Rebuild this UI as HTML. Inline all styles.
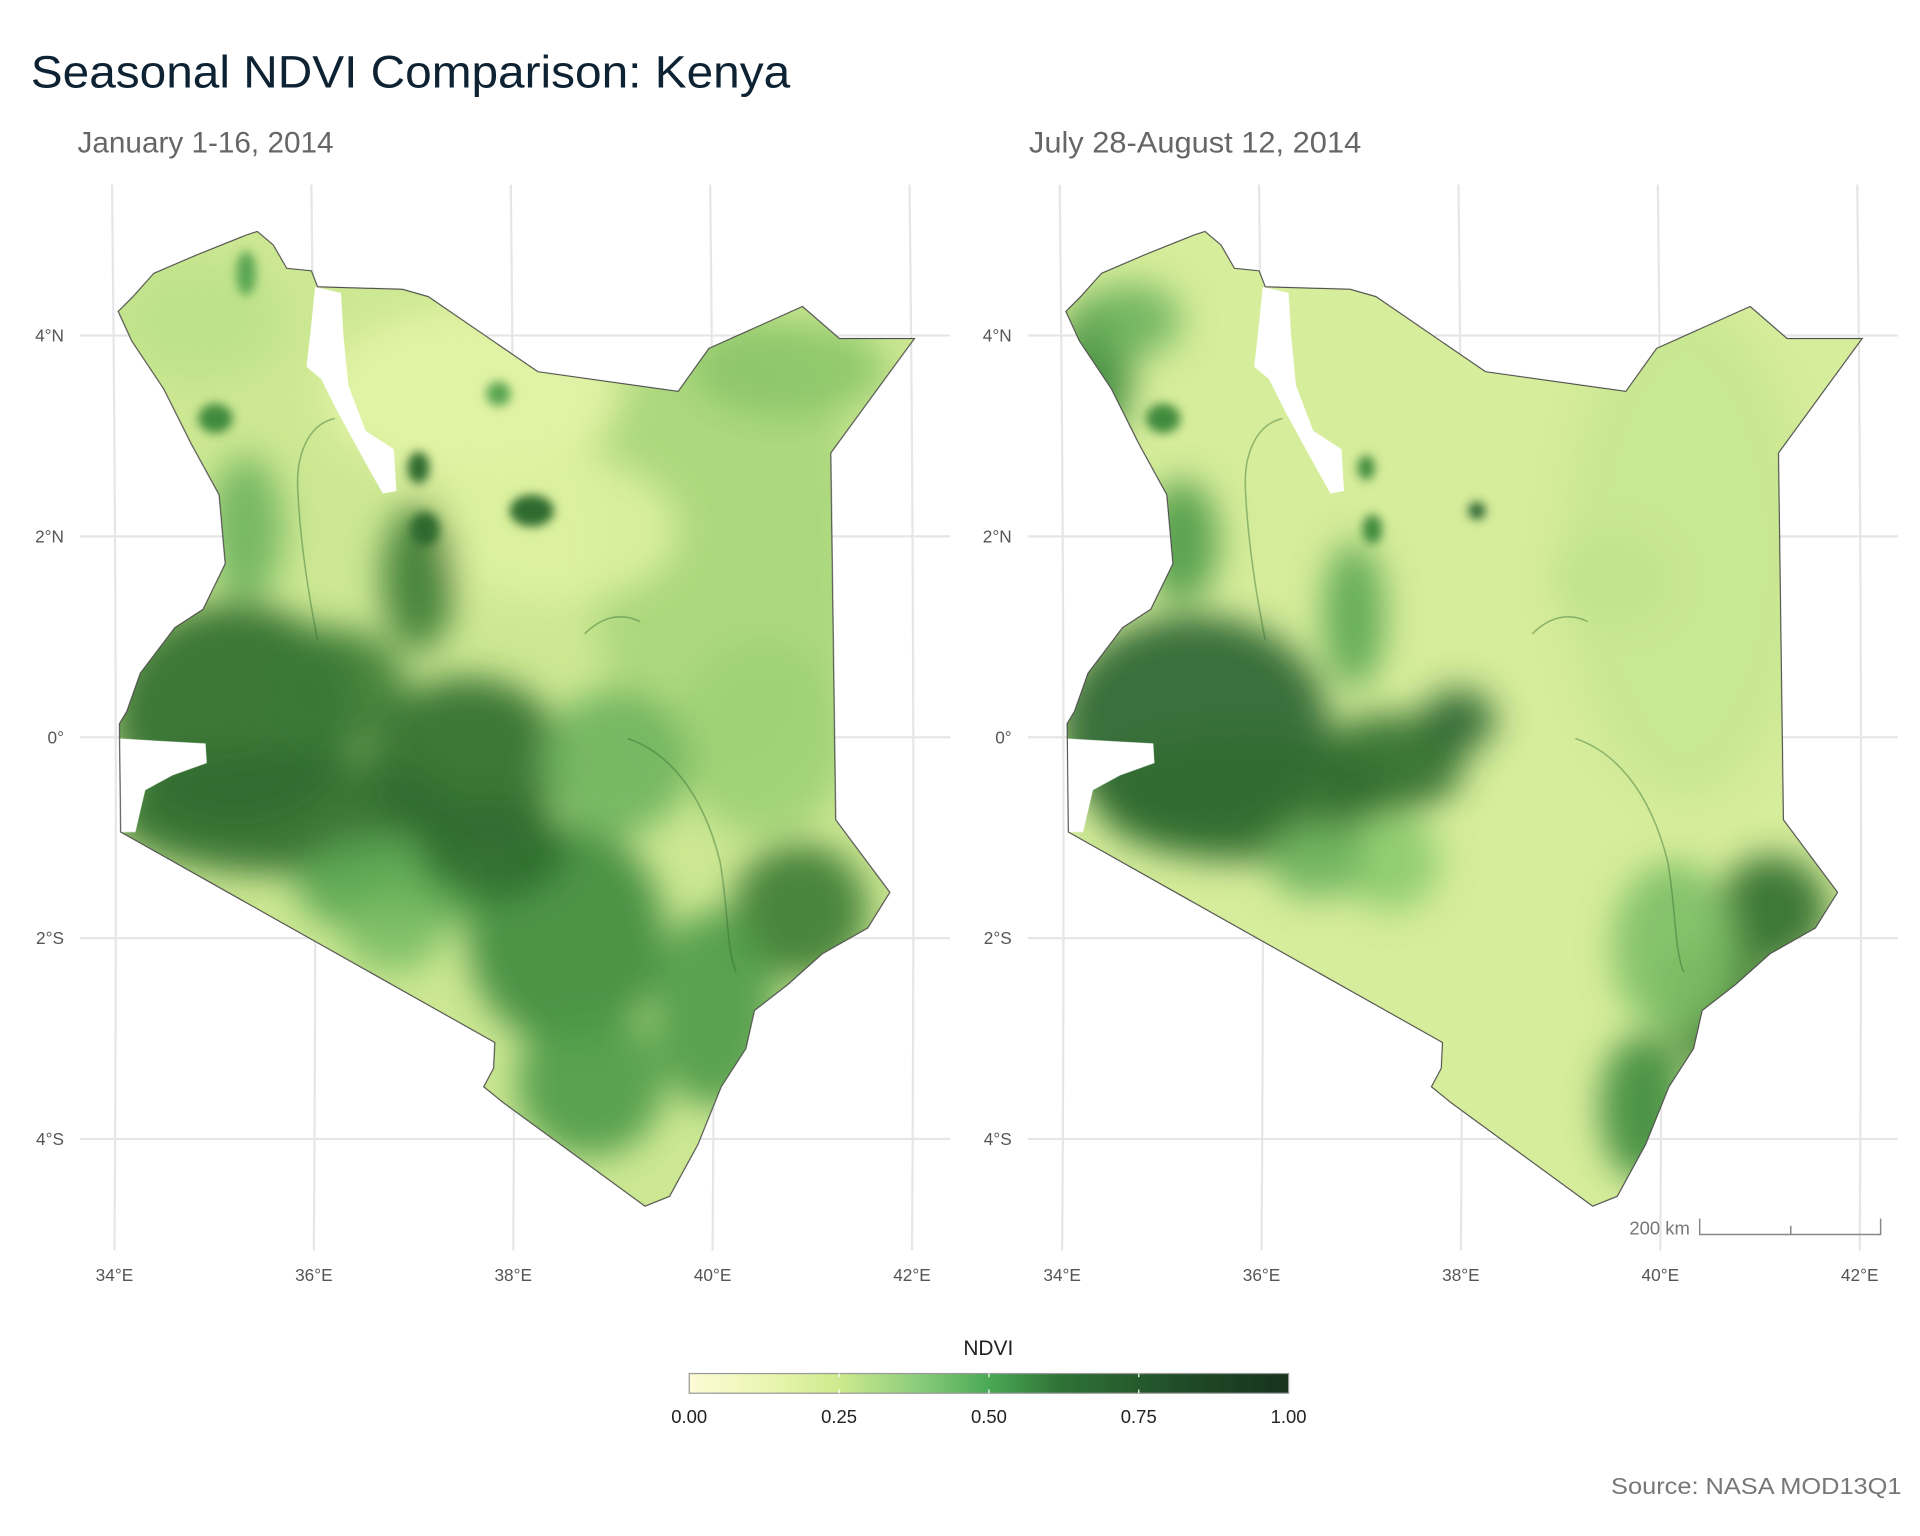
<!DOCTYPE html>
<html><head><meta charset="utf-8"><title>Seasonal NDVI Comparison: Kenya</title>
<style>
html,body{margin:0;padding:0;background:#fff;}
svg{display:block;font-family:"Liberation Sans",sans-serif;}
</style></head>
<body>
<svg id="chart" xmlns="http://www.w3.org/2000/svg" width="1920" height="1536" viewBox="0 0 1560 1248">
<defs>
  <clipPath id="kenyaClip" clipPathUnits="userSpaceOnUse">
    <polygon id="kenyaPolyDef" points=""/>
  </clipPath>
  <filter id="blur" x="-50%" y="-50%" width="200%" height="200%"><feGaussianBlur stdDeviation="14"/></filter>
  <filter id="blurS" x="-50%" y="-50%" width="200%" height="200%"><feGaussianBlur stdDeviation="4"/></filter>
  <linearGradient id="ndviGrad" x1="0" x2="1" y1="0" y2="0">
    <stop offset="0" stop-color="#fdfbd6"/>
    <stop offset="0.14" stop-color="#e8f5ae"/>
    <stop offset="0.25" stop-color="#cdea8e"/>
    <stop offset="0.38" stop-color="#8ccd7c"/>
    <stop offset="0.5" stop-color="#4aa955"/>
    <stop offset="0.62" stop-color="#2f7236"/>
    <stop offset="0.8" stop-color="#21502a"/>
    <stop offset="1" stop-color="#17321d"/>
  </linearGradient>
</defs>
<text x="25" y="71" font-size="37" fill="#0d2233" textLength="617" lengthAdjust="spacingAndGlyphs">Seasonal NDVI Comparison: Kenya</text>
<text x="63" y="124" font-size="24" fill="#666" textLength="208" lengthAdjust="spacingAndGlyphs">January 1-16, 2014</text>
<text x="836" y="124" font-size="24" fill="#666" textLength="270" lengthAdjust="spacingAndGlyphs">July 28-August 12, 2014</text>
<g id="panels"></g>
<g id="legend"></g>
<text x="1545" y="1214" font-size="19" fill="#777" text-anchor="end" textLength="236" lengthAdjust="spacingAndGlyphs">Source: NASA MOD13Q1</text>
</svg>
<script>
// ---- data arrays ----
const latTicks = [4, 2, 0, -2, -4];
const latLabels = ["4°N", "2°N", "0°", "2°S", "4°S"];
const lonTicks = [34, 36, 38, 40, 42];
const lonLabels = ["34°E", "36°E", "38°E", "40°E", "42°E"];
const legendTicks = [0, 0.25, 0.5, 0.75, 1];
const legendLabels = ["0.00", "0.25", "0.50", "0.75", "1.00"];
const panelTitles = ["January 1-16, 2014", "July 28-August 12, 2014"];

// ---- axis functions (display units) ----
const yLat = v => 599 - v * 81.6;
const xLon = v => 93 + (v - 34) * 81;
const legX = v => 560 + v * 487;
const panelOffsets = [0, 770];

const NS = "http://www.w3.org/2000/svg";
function mk(tag, attrs, parent) {
  const e = document.createElementNS(NS, tag);
  for (const k in attrs) e.setAttribute(k, attrs[k]);
  if (parent) parent.appendChild(e);
  return e;
}

const kenya = [[96,253],[108,241],[125,222],[160,207],[200,191],[209,188],[222,199],[233,218],[253,220],[258,233],[327,235],[348,241],[437,302],[551,318],[576,283],[652,249],[682,275],[743,275],[675,368],[679,666],[723,725],[705,754],[668,775],[640,800],[613,821],[606,852],[586,883],[567,930],[544,972],[524,980],[409,896],[393,883],[401,868],[402,847],[98,676],[97,588],[103,578],[114,547],[142,510],[165,495],[183,458],[178,402],[155,360],[133,316],[107,277]];
const kenyaPts = kenya.map(p => p.join(",")).join(" ");
document.getElementById("kenyaPolyDef").setAttribute("points", kenyaPts);
const turkana = [[256,233],[277,238],[279,272],[283,313],[297,350],[320,365],[322,399],[311,401],[297,376],[274,334],[261,308],[249,298],[252,272]];
const victoria = [[97,600],[130,602],[167,604],[168,620],[140,630],[118,642],[110,676],[98,676]];

const bases = ["#cde893", "#d6ed9b"];
const blobs = [
 [[590,450,110,200,"#a8d67b"],[640,300,80,40,"#8cc66a"],[620,600,70,80,"#9dd075"],[380,320,120,70,"#e2f3a6"],[450,430,100,60,"#ddf2a0"],
  [160,260,70,50,"#bde18a"],[200,430,30,60,"#6fb45e"],[190,580,100,90,"#2f6b2f"],[230,660,140,50,"#2f6b2f"],[380,620,80,70,"#2f6b2f"],
  [340,470,30,60,"#3a7a35"],[320,720,80,40,"#5aa552"],[460,760,80,90,"#3f8a3e"],[480,880,60,60,"#4e9a48"],[650,740,55,55,"#3a7a35"],
  [580,820,50,80,"#4e9a48"],[500,620,60,60,"#6fb45e"],[320,760,40,30,"#7dbf66"],[400,690,60,40,"#2f6b2f"],[270,560,60,50,"#3a7a35"]],
 [[600,450,100,200,"#c8e791"],[120,300,30,60,"#3f8a3e"],[150,260,40,30,"#6fb45e"],[190,440,30,50,"#4e9a48"],[200,590,110,90,"#2a6230"],
  [240,650,120,50,"#2f6b2f"],[360,620,60,40,"#2f6b2f"],[415,585,30,25,"#2a6230"],[330,500,25,60,"#5aa552"],[360,700,40,40,"#8ccb6e"],
  [670,740,45,45,"#2f6b2f"],[625,815,45,55,"#3a7a35"],[565,900,35,60,"#3f8a3e"],[590,770,50,70,"#7dbf66"],[540,470,50,40,"#c0e28c"],[300,700,40,30,"#6fb45e"]]
];
const spots = [
 [[175,340,14,12,"#3f8a3e"],[200,222,8,18,"#5aa552"],[340,380,9,13,"#2f6b2f"],[432,415,18,13,"#2f6b2f"],[345,430,12,14,"#2f6b2f"],[405,320,10,10,"#5aa552"]],
 [[430,415,7,7,"#2a6230"],[340,380,7,10,"#3f8a3e"],[345,430,8,12,"#3f8a3e"],[175,340,14,12,"#3f8a3e"]]
];
const rivers = [
 "M510,600 C540,610 570,640 585,700 C592,740 590,770 598,790",
 "M475,515 C490,500 505,498 520,505",
 "M272,340 C250,345 240,370 242,400 C244,440 250,480 258,520"
];

const panels = document.getElementById("panels");
panelOffsets.forEach((off, pi) => {
  const g = mk("g", {transform: `translate(${off},0)`}, panels);
  
  
  latTicks.forEach((v, i) => {
    const l = mk("line", {x1: 65, x2: 772, y1: yLat(v), y2: yLat(v), stroke: "#e6e6e6", "stroke-width": 1.8}, g);
    
    
    const t = mk("text", {x: 52, y: yLat(v) + 5, "font-size": 14, fill: "#555", "text-anchor": "end"}, g);
    t.textContent = latLabels[i];
    
    
  });
  lonTicks.forEach((v, i) => {
    const x = xLon(v);
    const p = mk("path", {d: `M${x-2},150 Q${x+3},580 ${x},1016`, stroke: "#e6e6e6", "stroke-width": 1.8, fill: "none"}, g);
    
    
    const t = mk("text", {x: x, y: 1041, "font-size": 14, fill: "#555", "text-anchor": "middle"}, g);
    t.textContent = lonLabels[i];
    
    
  });
  const r = mk("g", {"clip-path": "url(#kenyaClip)"}, g);
  
  
  mk("rect", {x: 80, y: 170, width: 680, height: 830, fill: bases[pi]}, r);
  const bg = mk("g", {filter: "url(#blur)"}, r);
  blobs[pi].forEach(b => mk("ellipse", {cx: b[0], cy: b[1], rx: b[2], ry: b[3], fill: b[4], opacity: 0.9}, bg));
  const sg = mk("g", {filter: "url(#blurS)"}, r);
  spots[pi].forEach(b => mk("ellipse", {cx: b[0], cy: b[1], rx: b[2], ry: b[3], fill: b[4]}, sg));
  rivers.forEach(d => mk("path", {d: d, stroke: "#2f6b2f", "stroke-width": 1.2, fill: "none", opacity: 0.45}, r));
  const lk = mk("polygon", {points: turkana.map(p => p.join(",")).join(" "), fill: "#fff"}, r);
  
  
  const lv = mk("polygon", {points: victoria.map(p => p.join(",")).join(" "), fill: "#fff"}, r);
  
  
  const b = mk("polygon", {points: kenyaPts, fill: "none", stroke: "#4a4a4a", "stroke-width": 0.9}, g);
  
  
});

const sb = mk("g", {}, panels);


const sbt = mk("text", {x: 1373, y: 1003, "font-size": 15, fill: "#777", "text-anchor": "end"}, sb);
sbt.textContent = "200 km";
mk("path", {d: "M1381,990 V1003 H1528 V990 M1455,996 V1003", stroke: "#888", "stroke-width": 1.2, fill: "none"}, sb);

const lg = document.getElementById("legend");
const lt = mk("text", {x: 803, y: 1101, "font-size": 17, fill: "#222", "text-anchor": "middle"}, lg);
lt.textContent = "NDVI";


const bar = mk("rect", {x: legX(0), y: 1116, width: legX(1) - legX(0), height: 16, fill: "url(#ndviGrad)", stroke: "#999", "stroke-width": 1}, lg);


legendTicks.forEach((v, i) => {
  if (v > 0 && v < 1) {
    mk("line", {x1: legX(v), x2: legX(v), y1: 1116, y2: 1119, stroke: "#fff", "stroke-width": 1}, lg);
    mk("line", {x1: legX(v), x2: legX(v), y1: 1129, y2: 1132, stroke: "#fff", "stroke-width": 1}, lg);
  }
  const t = mk("text", {x: legX(v), y: 1156, "font-size": 15, fill: "#222", "text-anchor": "middle"}, lg);
  t.textContent = legendLabels[i];
  
  
});
</script>
</body></html>
